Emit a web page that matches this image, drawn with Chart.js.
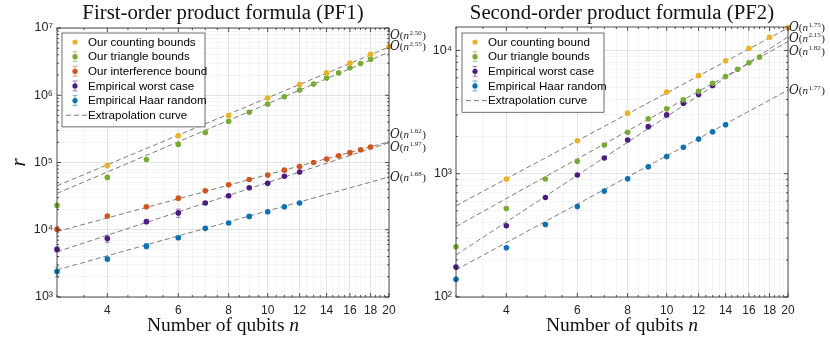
<!DOCTYPE html>
<html>
<head>
<title>Product formula bounds</title>
<script src="https://cdn.jsdelivr.net/npm/chart.js"></script>
<style>
  body { margin: 0; background: #fff; }
  #wrap { position: relative; width: 830px; height: 339px; }
  canvas { position: absolute; top: 0; }
</style>
</head>
<body>
<div id="wrap">
  <canvas id="pf1" width="440" height="339" style="left:0"></canvas>
  <canvas id="pf2" width="415" height="339" style="left:415px"></canvas>
</div>
<script>
// ---- data ----
const qubitTicks = [4, 6, 8, 10, 12, 14, 16, 18, 20];

// PF1
const pf1CountN = [4, 6, 8, 10, 12, 14, 16, 18, 20];
const pf1Count = [9.0e4, 2.5e5, 5.0e5, 9.1e5, 1.44e6, 2.15e6, 3.0e6, 4.05e6, 5.25e6];
const pf1TriN = [3, 4, 5, 6, 7, 8, 9, 10, 11, 12, 13, 14, 15, 16, 17, 18];
const pf1Tri = [2.3e4, 6.0e4, 1.11e5, 1.86e5, 2.8e5, 4.1e5, 5.6e5, 7.4e5, 9.5e5, 1.2e6, 1.47e6, 1.8e6, 2.15e6, 2.56e6, 2.97e6, 3.44e6];
const pf1IntN = [3, 4, 5, 6, 7, 8, 9, 10, 11, 12, 13, 14, 15, 16, 17, 18];
const pf1Int = [1.02e4, 1.6e4, 2.2e4, 2.95e4, 3.8e4, 4.65e4, 5.6e4, 6.5e4, 7.7e4, 8.7e4, 1.0e5, 1.13e5, 1.26e5, 1.4e5, 1.55e5, 1.7e5];
const pf1WorstN = [3, 4, 5, 6, 7, 8, 9, 10, 11, 12];
const pf1Worst = [5.1e3, 7.4e3, 1.32e4, 1.78e4, 2.5e4, 3.2e4, 4.2e4, 4.9e4, 6.25e4, 7.2e4];
const pf1WorstErr = [400, 900, 700, 2500, 1200, 1500, 1500, 2000, 1500, 1500];
const pf1HaarN = [3, 4, 5, 6, 7, 8, 9, 10, 11, 12];
const pf1Haar = [2.39e3, 3.66e3, 5.7e3, 7.6e3, 1.05e4, 1.26e4, 1.58e4, 1.85e4, 2.2e4, 2.5e4];
const pf1HaarErr = [400, 250, 500, 400, 500, 500, 600, 600, 700, 800];
const pf1FitStart = [4.5e4, 3.47e4, 9.4e3, 4.7e3, 2.53e3];   // at n = 3
const pf1FitEnd = [5.2e6, 4.38e6, 2.03e5, 1.97e5, 6.1e4];    // at n = 20
const pf1FitExp = ['2.50', '2.55', '1.62', '1.97', '1.68'];
const pf1YMajor = [1e3, 1e4, 1e5, 1e6, 1e7];

// PF2
const pf2CountN = [4, 6, 8, 10, 12, 14, 16, 18, 20];
const pf2Count = [906, 1850, 3100, 4600, 6270, 8250, 10400, 12800, 15300];
const pf2TriN = [3, 4, 5, 6, 7, 8, 9, 10, 11, 12, 13, 14, 15, 16, 17];
const pf2Tri = [256, 522, 906, 1260, 1710, 2170, 2790, 3360, 3980, 4660, 5420, 6150, 7050, 7940, 8830];
const pf2WorstN = [3, 4, 5, 6, 7, 8, 9, 10, 11, 12, 13];
const pf2Worst = [175, 378, 641, 977, 1340, 1880, 2410, 3000, 3730, 4390, 5190];
const pf2HaarN = [3, 4, 5, 6, 7, 8, 9, 10, 11, 12, 13, 14];
const pf2Haar = [139, 251, 387, 542, 723, 910, 1140, 1380, 1640, 1910, 2190, 2500];
const pf2FitStart = [550, 219, 373, 166];
const pf2FitEnd = [1.52e4, 1.29e4, 1.18e4, 4.77e3];
const pf2FitExp = ['1.75', '2.15', '1.82', '1.77'];
const pf2YMajor = [1e2, 1e3, 1e4];

// ---- style ----
const YELLOW = '#EDB120', GREEN = '#77AC30', RED = '#D95319', PURPLE = '#4E1A8A', BLUE = '#0A72BA';
const SUP = { '2': '\u00b2', '3': '\u00b3', '4': '\u2074', '5': '\u2075', '6': '\u2076', '7': '\u2077' };

function pts(xs, ys) { return xs.map((x, i) => ({ x: x, y: ys[i] })); }

function scatterSet(label, xs, ys, color, errs) {
  return {
    type: 'scatter', label: label, data: pts(xs, ys),
    backgroundColor: color, borderColor: color, pointRadius: 2.8, pointBorderWidth: 0,
    pointHoverRadius: 2.8, showLine: false, clip: false, errors: errs || null, order: 1
  };
}

function fitSet(y0, y1) {
  return {
    type: 'line', label: 'fit', data: [{ x: 3, y: y0 }, { x: 20, y: y1 }],
    borderColor: '#5a5a5a', borderWidth: 0.8, borderDash: [5, 3], pointRadius: 0,
    fill: false, clip: false, order: 2
  };
}

function yTickList(major, max) {
  const out = [];
  major.forEach(d => { for (let m = 1; m <= 9; m++) { if (m * d <= max) out.push(m * d); } });
  return out;
}

const xMinor = [];
for (let v = 3; v <= 20; v += 0.5) xMinor.push(v);

const errorBars = {
  id: 'errorBars',
  beforeDatasetsDraw(chart) {
    const ctx = chart.ctx, xs = chart.scales.x, ys = chart.scales.y;
    chart.data.datasets.forEach(ds => {
      if (!ds.errors) return;
      ctx.save();
      ctx.strokeStyle = ds.borderColor; ctx.globalAlpha = 0.55; ctx.lineWidth = 0.9;
      ds.data.forEach((p, i) => {
        const e = ds.errors[i];
        if (!e) return;
        const px = xs.getPixelForValue(p.x);
        const top = ys.getPixelForValue(p.y + e), bot = ys.getPixelForValue(p.y - e);
        ctx.beginPath();
        ctx.moveTo(px, top); ctx.lineTo(px, bot);
        ctx.moveTo(px - 2.5, top); ctx.lineTo(px + 2.5, top);
        ctx.moveTo(px - 2.5, bot); ctx.lineTo(px + 2.5, bot);
        ctx.stroke();
      });
      ctx.restore();
    });
  }
};

// box, inward tick marks, titles, fit labels, legend
function decorations(opts) {
  return {
    id: 'decor',
    afterDraw(chart) {
      const ctx = chart.ctx, a = chart.chartArea, xs = chart.scales.x, ys = chart.scales.y;
      ctx.save();
      ctx.strokeStyle = '#262626'; ctx.lineWidth = 0.8;
      ctx.strokeRect(a.left, a.top, a.right - a.left, a.bottom - a.top);
      ctx.beginPath();
      xs.ticks.forEach(t => {
        const px = xs.getPixelForValue(t.value);
        const len = qubitTicks.includes(t.value) ? 4 : 2;
        ctx.moveTo(px, a.bottom); ctx.lineTo(px, a.bottom - len);
        ctx.moveTo(px, a.top); ctx.lineTo(px, a.top + len);
      });
      ys.ticks.forEach(t => {
        const py = ys.getPixelForValue(t.value);
        const len = opts.yMajor.includes(t.value) ? 4 : 2;
        ctx.moveTo(a.left, py); ctx.lineTo(a.left + len, py);
        ctx.moveTo(a.right, py); ctx.lineTo(a.right - len, py);
      });
      ctx.stroke();

      // title
      const cx = (a.left + a.right) / 2;
      ctx.fillStyle = '#111';
      ctx.textAlign = 'center'; ctx.textBaseline = 'alphabetic';
      ctx.font = '20.8px "Liberation Serif"';
      ctx.fillText(opts.title, cx, 18.5);

      // x title with italic n
      const p1 = 'Number of qubits ';
      ctx.font = '19.5px "Liberation Serif"';
      const w1 = ctx.measureText(p1).width;
      ctx.font = 'italic 19.5px "Liberation Serif"';
      const w2 = ctx.measureText('n').width;
      const sx = cx - (w1 + w2) / 2;
      ctx.textAlign = 'left';
      ctx.font = '19.5px "Liberation Serif"';
      ctx.fillText(p1, sx, 330.5);
      ctx.font = 'italic 19.5px "Liberation Serif"';
      ctx.fillText('n', sx + w1, 330.5);

      if (opts.yTitle) {
        ctx.save();
        ctx.translate(25, (a.top + a.bottom) / 2);
        ctx.rotate(-Math.PI / 2);
        ctx.textAlign = 'center';
        ctx.font = 'italic 21px "Liberation Serif"';
        ctx.fillText(opts.yTitle, 0, 0);
        ctx.restore();
      }

      // fit exponent labels at the right edge
      opts.fitEnd.forEach((v, i) => {
        let x = a.right + 1;
        const y = ys.getPixelForValue(v) + opts.labelShift[i] + 4;
        ctx.textAlign = 'left';
        ctx.fillStyle = '#222';
        ctx.font = 'italic 12px "DejaVu Serif"';
        ctx.fillText('O', x, y); x += ctx.measureText('O').width;
        ctx.font = '11px "Liberation Serif"';
        ctx.fillText('(', x, y); x += ctx.measureText('(').width;
        ctx.font = 'italic 11px "Liberation Serif"';
        ctx.fillText('n', x, y); x += ctx.measureText('n').width + 0.5;
        ctx.font = '7px "Liberation Serif"';
        ctx.fillText(opts.fitExp[i], x, y - 4.5); x += ctx.measureText(opts.fitExp[i]).width + 0.5;
        ctx.font = '11px "Liberation Serif"';
        ctx.fillText(')', x, y);
      });

      // legend
      const L = opts.legend;
      const h = L.rowH * L.items.length + 6;
      ctx.fillStyle = '#fff';
      ctx.fillRect(L.x, L.y, L.w, h);
      ctx.strokeStyle = '#333'; ctx.lineWidth = 0.7;
      ctx.strokeRect(L.x, L.y, L.w, h);
      ctx.font = '11.6px "Liberation Sans"';
      ctx.textBaseline = 'middle';
      L.items.forEach((it, i) => {
        const yy = L.y + 9 + i * L.rowH;
        if (it.line) {
          ctx.strokeStyle = '#5a5a5a'; ctx.lineWidth = 0.8; ctx.setLineDash([5, 3]);
          ctx.beginPath(); ctx.moveTo(L.markX - 9, yy); ctx.lineTo(L.markX + 12, yy); ctx.stroke();
          ctx.setLineDash([]);
        } else {
          if (it.err) {
            ctx.strokeStyle = it.color; ctx.globalAlpha = 0.6; ctx.lineWidth = 0.9;
            ctx.beginPath();
            ctx.moveTo(L.markX, yy - 5); ctx.lineTo(L.markX, yy + 5);
            ctx.moveTo(L.markX - 2.5, yy - 5); ctx.lineTo(L.markX + 2.5, yy - 5);
            ctx.moveTo(L.markX - 2.5, yy + 5); ctx.lineTo(L.markX + 2.5, yy + 5);
            ctx.stroke();
            ctx.globalAlpha = 1;
          }
          ctx.fillStyle = it.color;
          ctx.beginPath(); ctx.arc(L.markX, yy, 2.6, 0, Math.PI * 2); ctx.fill();
        }
        ctx.fillStyle = '#000';
        ctx.fillText(it.text, L.textX, yy + 0.5);
      });
      ctx.restore();
    }
  };
}

function makeChart(id, cfg) {
  const yTicks = yTickList(cfg.yMajor, cfg.yMax);
  return new Chart(document.getElementById(id), {
    data: { datasets: cfg.datasets },
    options: {
      responsive: false, animation: false, devicePixelRatio: 1,
      layout: { padding: cfg.padding },
      plugins: { legend: { display: false }, tooltip: { enabled: false } },
      scales: {
        x: {
          type: 'logarithmic', min: 3, max: 20,
          afterBuildTicks: s => { s.ticks = xMinor.map(v => ({ value: v })); },
          afterFit: s => { s.height = 42; },
          border: { display: false },
          grid: {
            drawTicks: false,
            color: c => qubitTicks.includes(c.tick.value) ? 'rgba(0,0,0,0.13)' : 'rgba(0,0,0,0.05)',
            lineWidth: 0.8
          },
          ticks: {
            autoSkip: false, maxRotation: 0, padding: 6, color: '#262626',
            font: { family: 'Liberation Sans', size: 12 },
            callback: v => qubitTicks.includes(v) ? String(v) : ''
          }
        },
        y: {
          type: 'logarithmic', min: cfg.yMajor[0], max: cfg.yMax,
          afterBuildTicks: s => { s.ticks = yTicks.map(v => ({ value: v })); },
          afterFit: s => { s.width = cfg.yWidth; },
          border: { display: false },
          grid: {
            drawTicks: false,
            color: c => cfg.yMajor.includes(c.tick.value) ? 'rgba(0,0,0,0.13)' : 'rgba(0,0,0,0.05)',
            lineWidth: 0.8
          },
          ticks: {
            autoSkip: false, padding: 4, color: '#262626',
            font: { family: 'Liberation Sans', size: 12.5 },
            callback: v => cfg.yMajor.includes(v) ? '10' + SUP[String(Math.round(Math.log10(v)))] : ''
          }
        }
      }
    },
    plugins: [errorBars, decorations(cfg)]
  });
}

makeChart('pf1', {
  title: 'First-order product formula (PF1)',
  yTitle: 'r',
  yMajor: pf1YMajor, yMax: 1e7, yWidth: 57,
  padding: { left: 0, top: 28, right: 51, bottom: 0 },
  fitEnd: pf1FitEnd, fitExp: pf1FitExp, labelShift: [-12, -6, -8, 4, 0],
  datasets: [
    scatterSet('Our counting bounds', pf1CountN, pf1Count, YELLOW),
    scatterSet('Our triangle bounds', pf1TriN, pf1Tri, GREEN),
    scatterSet('Our interference bound', pf1IntN, pf1Int, RED),
    scatterSet('Empirical worst case', pf1WorstN, pf1Worst, PURPLE, pf1WorstErr),
    scatterSet('Empirical Haar random', pf1HaarN, pf1Haar, BLUE, pf1HaarErr)
  ].concat(pf1FitStart.map((v, i) => fitSet(v, pf1FitEnd[i]))),
  legend: {
    x: 62, y: 33, w: 143, rowH: 14.65, markX: 75, textX: 88,
    items: [
      { text: 'Our counting bounds', color: YELLOW },
      { text: 'Our triangle bounds', color: GREEN, err: true },
      { text: 'Our interference bound', color: RED, err: true },
      { text: 'Empirical worst case', color: PURPLE, err: true },
      { text: 'Empirical Haar random', color: BLUE, err: true },
      { text: 'Extrapolation curve', line: true }
    ]
  }
});

makeChart('pf2', {
  title: 'Second-order product formula (PF2)',
  yTitle: null,
  yMajor: pf2YMajor, yMax: 1.55e4, yWidth: 41,
  padding: { left: 0, top: 27, right: 42, bottom: 0 },
  fitEnd: pf2FitEnd, fitExp: pf2FitExp, labelShift: [-1, 1, 9, 0],
  datasets: [
    scatterSet('Our counting bound', pf2CountN, pf2Count, YELLOW),
    scatterSet('Our triangle bounds', pf2TriN, pf2Tri, GREEN),
    scatterSet('Empirical worst case', pf2WorstN, pf2Worst, PURPLE),
    scatterSet('Empirical Haar random', pf2HaarN, pf2Haar, BLUE)
  ].concat(pf2FitStart.map((v, i) => fitSet(v, pf2FitEnd[i]))),
  legend: {
    x: 47, y: 33, w: 142, rowH: 14.65, markX: 60, textX: 73,
    items: [
      { text: 'Our counting bound', color: YELLOW },
      { text: 'Our triangle bounds', color: GREEN, err: true },
      { text: 'Empirical worst case', color: PURPLE, err: true },
      { text: 'Empirical Haar random', color: BLUE, err: true },
      { text: 'Extrapolation curve', line: true }
    ]
  }
});
</script>
</body>
</html>
